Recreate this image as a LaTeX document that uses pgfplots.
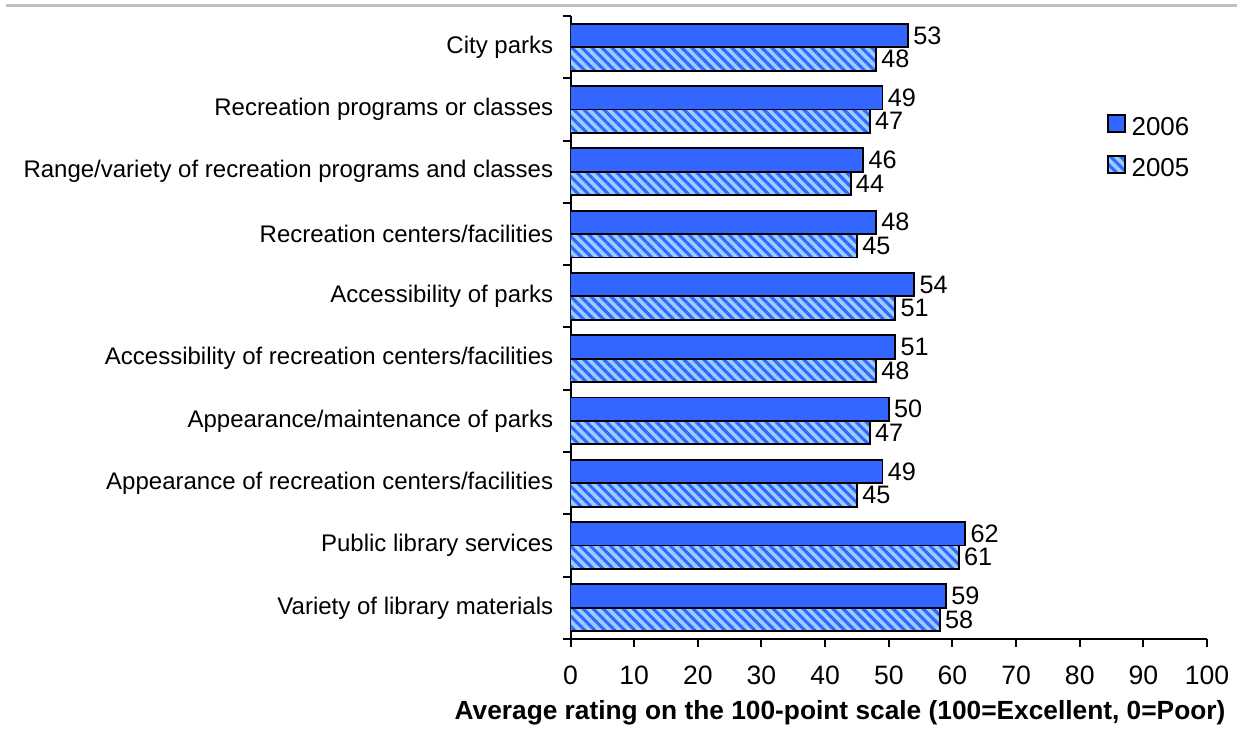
\documentclass[border=0pt]{standalone}
\usepackage{pgfplots}
\pgfplotsset{compat=1.18}
\usetikzlibrary{patterns.meta}
\usepackage{fontspec}
\setmainfont{Liberation Sans}
\definecolor{dblue}{RGB}{51,102,255}
\definecolor{lblue}{RGB}{153,204,255}
\definecolor{lgray}{RGB}{191,191,191}
\newcommand{\lf}{\fontsize{18.07}{21}\selectfont}
\newcommand{\nf}{\fontsize{20}{23}\selectfont}
\newcommand{\df}{\fontsize{19}{22}\selectfont}
\newcommand{\gf}{\fontsize{19.5}{23}\selectfont}

\begin{document}
\begin{tikzpicture}
\path[use as bounding box] (0,0) rectangle (932.25bp,551.25bp);
\draw[lgray, line width=2.25bp] (4.5bp,547.1bp) -- (927.75bp,547.1bp);
\begin{axis}[
  at={(427.9bp,72bp)}, anchor=south west,
  scale only axis, width=477.4bp, height=467.25bp,
  xmin=0, xmax=100, ymin=-0.5, ymax=9.5,
  xbar, bar width=17.6bp,
  axis x line*=bottom, axis y line*=left,
  axis line style={line width=1.5bp, black},
  xtick={0,10,...,100},
  ytick={0,...,9},
  yticklabels={Variety of library materials, Public library services, Appearance of recreation centers/facilities, Appearance/maintenance of parks, Accessibility of recreation centers/facilities, Accessibility of parks, Recreation centers/facilities, Range/variety of recreation programs and classes, Recreation programs or classes, City parks},
  minor ytick={-0.5,0.5,...,9.5},
  tick align=outside,
  major tick length=6bp, minor tick length=6bp,
  major y tick style={draw=none},
  minor y tick style={draw=black, line width=1.5bp},
  major x tick style={draw=black, line width=1.5bp},
  yticklabel style={font=\lf, xshift=-3.5bp},
  xticklabel style={font=\nf, yshift=-11bp},
  /pgf/number format/assume math mode=true,
  xlabel={Average rating on the 100-point scale (100=Excellent, 0=Poor)},
  xlabel style={font=\bfseries\fontsize{19.8}{23}\selectfont, at={(axis description cs:0.4234,0)}, anchor=center, yshift=-55.5bp},
  nodes near coords,
  every node near coord/.append style={font=\df, anchor=west, black, inner ysep=0bp},
  legend style={at={(0.843,0.8426)}, anchor=north west, draw=none, fill=none, font=\gf,
     row sep=14.75bp, column sep=4bp, inner sep=0pt,
     nodes={inner sep=0pt, text height=14bp, text depth=0pt}},
  legend cell align=left,
  legend image code/.code={\draw[#1] (0bp,-4.5bp) rectangle (12.75bp,8.25bp);},
]
\addplot[draw=black, line width=1.4bp, fill=dblue, bar shift=8.8bp]
  coordinates {(53,9) (49,8) (46,7) (48,6) (54,5) (51,4) (50,3) (49,2) (62,1) (59,0)};
\addlegendentry{2006}
\addplot[draw=black, line width=1.4bp, preaction={fill=lblue},
  pattern={Lines[angle=-45, distance=5.3bp, line width=2.3bp]}, pattern color=dblue,
  bar shift=-8.8bp]
  coordinates {(48,9) (47,8) (44,7) (45,6) (51,5) (48,4) (47,3) (45,2) (61,1) (58,0)};
\addlegendentry{2005}
\end{axis}
\end{tikzpicture}
\end{document}
